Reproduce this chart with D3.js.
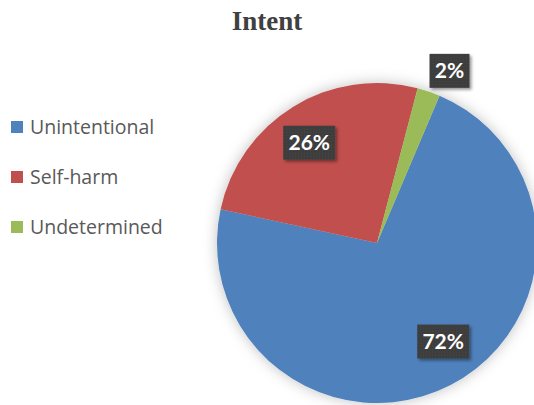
<!DOCTYPE html>
<html>
<head>
<meta charset="utf-8">
<script src="https://cdn.jsdelivr.net/npm/d3@7"></script>
<style>
  body { margin: 0; background: #fff; }
  svg { display: block; }
</style>
</head>
<body>
<svg id="chart" width="534" height="405"></svg>
<script>
// data
const categories = ['Unintentional', 'Self-harm', 'Undetermined'];
const values = [72.0, 25.7, 2.3];
const colors = ['#4F81BD', '#C0504D', '#9BBB59'];

const W = 534, H = 405;
const cx = 377, cy = 243, R = 160;
const firstSliceAngle = 23; // degrees, clockwise from 12 o'clock
// small nudges so the labels sit where excel put them
const labelShift = [[11, -8], [-5, 2], [12, 5]];

const svg = d3.select('#chart');
const defs = svg.append('defs');

// soft shadow round the pie
const pieShadow = defs.append('filter').attr('id', 'pieShadow')
    .attr('x', '-20%').attr('y', '-20%').attr('width', '140%').attr('height', '140%');
pieShadow.append('feDropShadow')
    .attr('dx', 0).attr('dy', 0)
    .attr('stdDeviation', 7)
    .attr('flood-color', '#000')
    .attr('flood-opacity', 0.25);

// shadow for the label boxes
const boxShadow = defs.append('filter').attr('id', 'boxShadow')
    .attr('x', '-30%').attr('y', '-30%').attr('width', '160%').attr('height', '160%');
boxShadow.append('feDropShadow')
    .attr('dx', 2).attr('dy', 2)
    .attr('stdDeviation', 1.5)
    .attr('flood-color', '#000')
    .attr('flood-opacity', 0.4);

// dotted texture of the boxes
const pat = defs.append('pattern').attr('id', 'dots')
    .attr('width', 3).attr('height', 3).attr('patternUnits', 'userSpaceOnUse');
pat.append('rect').attr('width', 3).attr('height', 3).attr('fill', '#3d3d3d');
pat.append('rect').attr('x', 1).attr('y', 1).attr('width', 1).attr('height', 1).attr('fill', '#4a4a4a');

// title
svg.append('text')
    .attr('x', W / 2)
    .attr('y', 30)
    .attr('text-anchor', 'middle')
    .style('font-family', '"Liberation Serif", "Times New Roman", serif')
    .style('font-weight', 'bold')
    .style('font-size', '27px')
    .style('fill', '#404040')
    .text('Intent');

// legend
const legendY = d3.scaleBand().domain(categories).range([102, 252]);
const legend = svg.append('g');
categories.forEach(function (c, i) {
    const y = legendY(c) + legendY.bandwidth() / 2;
    legend.append('rect')
        .attr('x', 11).attr('y', y - 6)
        .attr('width', 12).attr('height', 12)
        .attr('fill', colors[i]);
    legend.append('text')
        .attr('x', 30).attr('y', y)
        .attr('dy', '0.36em')
        .style('font-family', '"Open Sans", "Noto Sans", sans-serif')
        .style('font-size', '19.5px')
        .style('fill', '#595959')
        .text(c);
});

// pie
const pie = d3.pie().sort(null)
    .startAngle(firstSliceAngle * Math.PI / 180)
    .endAngle(firstSliceAngle * Math.PI / 180 + 2 * Math.PI);
const arcs = pie(values);
const arc = d3.arc().innerRadius(0).outerRadius(R);

const g = svg.append('g').attr('transform', 'translate(' + cx + ',' + cy + ')');

g.append('g').attr('filter', 'url(#pieShadow)')
    .selectAll('path')
    .data(arcs)
    .enter().append('path')
    .attr('d', arc)
    .attr('fill', function (d, i) { return colors[i]; });

// data labels
const total = d3.sum(values);
const inLabel = d3.arc().innerRadius(R * 0.75).outerRadius(R * 0.75);
const outLabel = d3.arc().innerRadius(R * 1.17).outerRadius(R * 1.17);

arcs.forEach(function (d, i) {
    const pct = Math.round(d.value / total * 100);
    const small = pct < 5;
    const p = (small ? outLabel : inLabel).centroid(d);
    const x = p[0] + labelShift[i][0], y = p[1] + labelShift[i][1];
    const lg = g.append('g').attr('transform', 'translate(' + x + ',' + y + ')');
    const txt = pct + '%';
    const bw = txt.length > 2 ? 52 : 40;
    lg.append('rect')
        .attr('x', -bw / 2).attr('y', -17)
        .attr('width', bw).attr('height', 34)
        .attr('fill', 'url(#dots)')
        .attr('filter', 'url(#boxShadow)');
    lg.append('text')
        .attr('text-anchor', 'middle')
        .attr('dy', '0.36em')
        .style('font-family', 'Lato, "Open Sans", sans-serif')
        .style('font-weight', 'bold')
        .style('font-size', '21px')
        .style('fill', '#fff')
        .text(txt);
});
</script>
</body>
</html>
